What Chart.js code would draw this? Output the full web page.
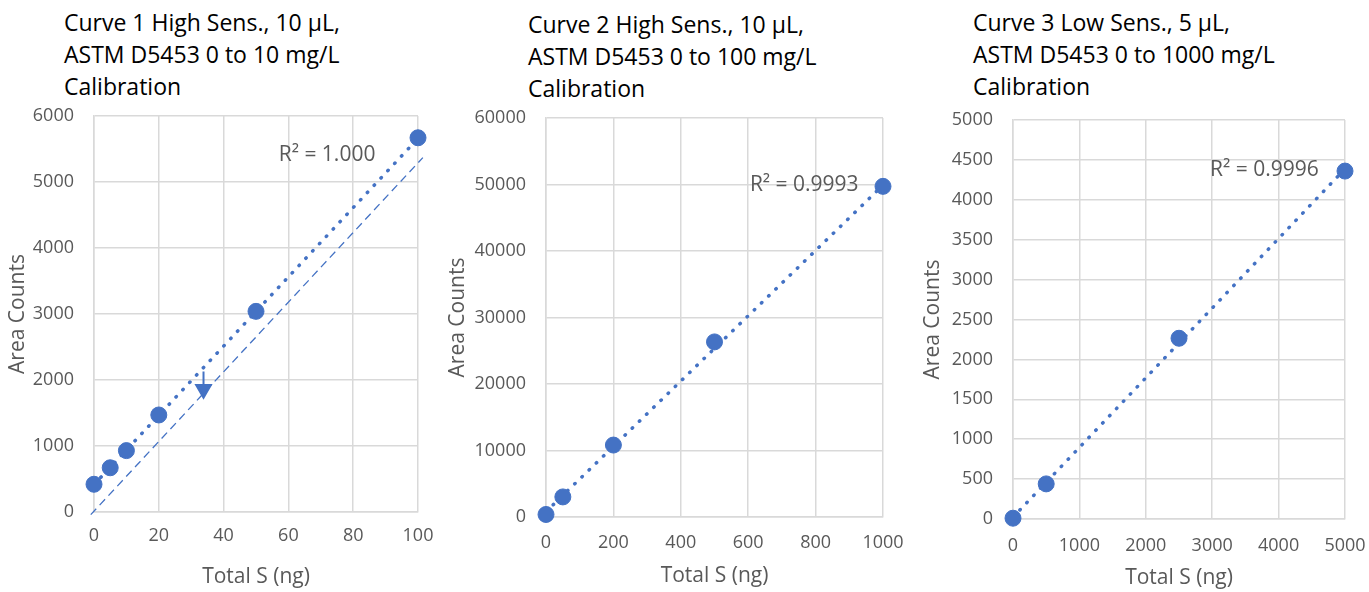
<!DOCTYPE html>
<html>
<head>
<meta charset="utf-8">
<script src="https://cdn.jsdelivr.net/npm/chart.js@4.4.1/dist/chart.umd.min.js"></script>
<style>
  body { margin: 0; background: #fff; width: 1369px; height: 592px; position: relative; overflow: hidden; font-family: "Open Sans", sans-serif; }
  .ttl { position: absolute; font-size: 23px; line-height: 32px; color: #000; white-space: nowrap; }
  .box { position: absolute; top: 100px; height: 492px; }
</style>
</head>
<body>
<div class="ttl" style="left:64px; top:6px">Curve 1 High Sens., 10 µL,<br>ASTM D5453 0 to 10 mg/L<br>Calibration</div>
<div class="ttl" style="left:528px; top:8px">Curve 2 High Sens., 10 µL,<br>ASTM D5453 0 to 100 mg/L<br>Calibration</div>
<div class="ttl" style="left:973px; top:6px">Curve 3 Low Sens., 5 µL,<br>ASTM D5453 0 to 1000 mg/L<br>Calibration</div>

<div class="box" style="left:0px; width:440px"><canvas id="c1"></canvas></div>
<div class="box" style="left:440px; width:475px"><canvas id="c2"></canvas></div>
<div class="box" style="left:915px; width:454px"><canvas id="c3"></canvas></div>

<script>
// curve 1 (0-10 mg/L)
const c1Mass = [0, 5, 10, 20, 50, 100];
const c1Area = [420, 670, 930, 1470, 3040, 5670];
const c1TrendX = [0, 100];
const c1TrendY = [415, 5660];
const c1DashX = [-1, 101.5];
const c1DashY = [-40, 5370];
const c1ArrowX = [33.8, 33.8];
const c1ArrowY = [2130, 1858];
const c1R2 = 'R² = 1.000';

// curve 2 (0-100 mg/L)
const c2Mass = [0, 50, 200, 500, 1000];
const c2Area = [380, 3020, 10820, 26330, 49720];
const c2TrendX = [0, 1000];
const c2TrendY = [800, 49900];
const c2R2 = 'R² = 0.9993';

// curve 3 (0-1000 mg/L)
const c3Mass = [0, 500, 2500, 5000];
const c3Area = [10, 440, 2265, 4360];
const c3TrendX = [0, 5000];
const c3TrendY = [23, 4388];
const c3R2 = 'R² = 0.9996';

const blue = '#4472C4';
const grey = '#595959';
const gridCol = '#d9d9d9';

Chart.defaults.font.family = '"Open Sans", sans-serif';
Chart.defaults.animation = false;

const pts = (xs, ys) => xs.map((x, i) => ({ x: x, y: ys[i] }));

// writes the R² label at a data position
const r2Plugin = {
    id: 'r2',
    afterDatasetsDraw(chart, args, opts) {
        const ctx = chart.ctx;
        const x = chart.scales.x.getPixelForValue(opts.at[0]);
        const y = chart.scales.y.getPixelForValue(opts.at[1]);
        ctx.save();
        ctx.font = '21px "Open Sans", sans-serif';
        ctx.fillStyle = grey;
        ctx.textAlign = 'left';
        ctx.textBaseline = 'middle';
        ctx.fillText(opts.text, x, y);
        ctx.restore();
    }
};

function makeChart(id, c) {
    const datasets = [
        { data: pts(c.mass, c.area), backgroundColor: blue, borderColor: blue, pointRadius: 8,
          showLine: false, clip: false },
        { data: pts(c.trendX, c.trendY), showLine: true, borderColor: blue, borderWidth: 3.5,
          borderDash: [0.5, 9.5], borderCapStyle: 'round', pointRadius: 0, fill: false }
    ].concat(c.extra || []);

    new Chart(document.getElementById(id), {
        type: 'scatter',
        data: { datasets: datasets },
        plugins: [r2Plugin],
        options: {
            responsive: true,
            maintainAspectRatio: false,
            layout: { padding: { top: c.top, right: c.right, left: 0, bottom: 0 } },
            plugins: {
                legend: { display: false },
                tooltip: { enabled: false },
                r2: { text: c.r2, at: c.r2At }
            },
            scales: {
                x: {
                    min: c.xMax[0], max: c.xMax[1],
                    afterFit: s => { s.height = c.xH; s.paddingLeft = 0; s.paddingRight = 0; },
                    grid: { color: gridCol, lineWidth: 1.5, drawTicks: false },
                    border: { color: gridCol, width: 1.5 },
                    ticks: { stepSize: c.xStep, color: grey, font: { size: 18 }, padding: c.xPad,
                             maxRotation: 0, autoSkip: false, callback: v => String(v) },
                    title: { display: true, text: 'Total S (ng)', color: grey, font: { size: 21 },
                             padding: { top: 0, bottom: c.xTitlePad } }
                },
                y: {
                    min: c.yMax[0], max: c.yMax[1],
                    afterFit: s => { s.width = c.yW; s.paddingTop = 0; s.paddingBottom = 0; },
                    grid: { color: gridCol, lineWidth: 1.5, drawTicks: false },
                    border: { color: gridCol, width: 1.5 },
                    ticks: { stepSize: c.yStep, color: grey, font: { size: 18 }, padding: 20,
                             autoSkip: false, callback: v => String(v) },
                    title: { display: true, text: 'Area Counts', color: grey, font: { size: 21 },
                             padding: { top: 5, bottom: 0 } }
                }
            }
        }
    });
}

makeChart('c1', {
    mass: c1Mass, area: c1Area, trendX: c1TrendX, trendY: c1TrendY,
    xMax: [0, 100], xStep: 20, yMax: [0, 6000], yStep: 1000,
    top: 16, right: 22, yW: 94, xH: 80, xPad: 13, xTitlePad: 2,
    r2: c1R2, r2At: [57, 5410],
    extra: [
        { data: pts(c1DashX, c1DashY), showLine: true, borderColor: blue, borderWidth: 1.3,
          borderDash: [8, 5], pointRadius: 0, clip: false },
        { data: pts(c1ArrowX, c1ArrowY), showLine: true, borderColor: blue, backgroundColor: blue,
          borderWidth: 2, pointStyle: 'triangle', rotation: 180, pointRadius: [0, 8.5], clip: false }
    ]
});

makeChart('c2', {
    mass: c2Mass, area: c2Area, trendX: c2TrendX, trendY: c2TrendY,
    xMax: [0, 1000], xStep: 200, yMax: [0, 60000], yStep: 10000,
    top: 18, right: 32, yW: 106, xH: 75, xPad: 15, xTitlePad: 3,
    r2: c2R2, r2At: [605, 49900]
});

makeChart('c3', {
    mass: c3Mass, area: c3Area, trendX: c3TrendX, trendY: c3TrendY,
    xMax: [0, 5000], xStep: 1000, yMax: [0, 5000], yStep: 500,
    top: 20, right: 24, yW: 98, xH: 73, xPad: 16, xTitlePad: 1,
    r2: c3R2, r2At: [2968, 4373]
});
</script>
</body>
</html>
